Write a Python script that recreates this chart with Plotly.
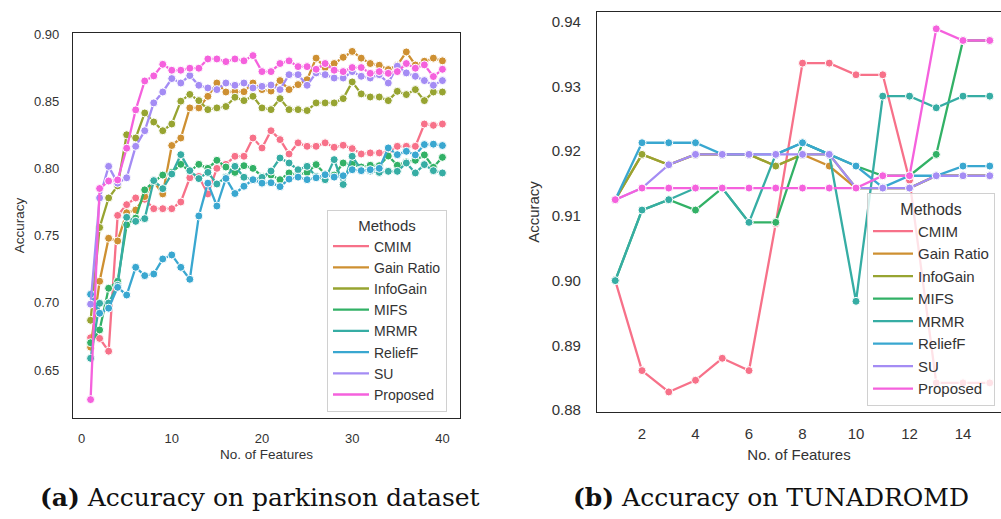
import plotly.graph_objects as go

methods = ["CMIM", "Gain Ratio", "InfoGain", "MIFS", "MRMR", "ReliefF", "SU", "Proposed"]
colors = ["#f77189", "#ce9032", "#97a431", "#32b166", "#36ada4", "#39a7d0", "#a48cf4", "#f561dd"]

# ---- (a) parkinson dataset ----
features_a = list(range(1, 41))
cmim_a = [0.674, 0.6735, 0.664, 0.765, 0.773, 0.778, 0.777, 0.770, 0.770, 0.770,
          0.775, 0.793, 0.794, 0.781, 0.800, 0.803, 0.809, 0.809, 0.8226, 0.8152,
          0.828, 0.8214, 0.8107, 0.819, 0.8164, 0.8164, 0.819, 0.8157, 0.8172, 0.8147,
          0.8107, 0.8115, 0.8115, 0.8125, 0.8164, 0.8164, 0.8164, 0.833, 0.832, 0.833]
gain_a = [0.667, 0.716, 0.748, 0.746, 0.767, 0.769, 0.779, 0.790, 0.781, 0.817,
          0.8226, 0.845, 0.845, 0.8536, 0.8635, 0.8568, 0.857, 0.857, 0.8635, 0.8586,
          0.8575, 0.8653, 0.8586, 0.8623, 0.866, 0.882, 0.875, 0.878, 0.8826, 0.887,
          0.882, 0.878, 0.8767, 0.8735, 0.8767, 0.8866, 0.8769, 0.8797, 0.882, 0.880]
info_a = [0.687, 0.756, 0.778, 0.787, 0.825, 0.8226, 0.8412, 0.8345, 0.828, 0.833,
          0.850, 0.855, 0.8504, 0.8437, 0.845, 0.846, 0.8529, 0.8504, 0.8536, 0.845,
          0.8437, 0.8519, 0.8437, 0.8437, 0.843, 0.8487, 0.8487, 0.8487, 0.8519, 0.8643,
          0.8554, 0.8531, 0.8531, 0.8504, 0.8573, 0.8549, 0.8586, 0.8504, 0.8568, 0.8568]
mifs_a = [0.6703, 0.6798, 0.7108, 0.716, 0.758, 0.763, 0.784, 0.790, 0.795, 0.797,
          0.803, 0.798, 0.803, 0.800, 0.806, 0.801, 0.797, 0.802, 0.800, 0.794,
          0.795, 0.7916, 0.7966, 0.795, 0.797, 0.8028, 0.7958, 0.795, 0.804, 0.803,
          0.801, 0.8023, 0.802, 0.8092, 0.8023, 0.8048, 0.806, 0.810, 0.8008, 0.8082]
mrmr_a = [0.6587, 0.6996, 0.6998, 0.713, 0.7636, 0.7606, 0.7626, 0.7909, 0.7849, 0.7958,
          0.8102, 0.7983, 0.7924, 0.797, 0.7884, 0.7935, 0.8015, 0.7934, 0.7916, 0.7933,
          0.798, 0.8077, 0.804, 0.799, 0.8015, 0.794, 0.7916, 0.8065, 0.788, 0.809,
          0.799, 0.798, 0.797, 0.7978, 0.7978, 0.804, 0.7966, 0.8028, 0.7983, 0.7966]
relief_a = [0.7063, 0.6922, 0.696, 0.7115, 0.7058, 0.7264, 0.7202, 0.7214, 0.7326, 0.7356,
            0.7264, 0.7175, 0.7646, 0.789, 0.772, 0.7925, 0.7813, 0.7867, 0.7916, 0.789,
            0.7893, 0.7864, 0.792, 0.7935, 0.7916, 0.793, 0.7953, 0.7935, 0.7945, 0.799,
            0.7983, 0.799, 0.800, 0.8152, 0.8102, 0.8127, 0.810, 0.8177, 0.818, 0.817]
su_a = [0.699, 0.778, 0.8015, 0.789, 0.793, 0.8164, 0.828, 0.8487, 0.8568, 0.8668,
        0.8635, 0.869, 0.8618, 0.8598, 0.8586, 0.8635, 0.8618, 0.8635, 0.8598, 0.861,
        0.862, 0.8586, 0.8697, 0.8697, 0.8618, 0.871, 0.8697, 0.8672, 0.8672, 0.872,
        0.8685, 0.8672, 0.8697, 0.8635, 0.876, 0.871, 0.8685, 0.8653, 0.8618, 0.8653]
prop_a = [0.628, 0.785, 0.7906, 0.7914, 0.815, 0.8435, 0.865, 0.8688, 0.8774, 0.873,
          0.873, 0.8745, 0.8745, 0.8814, 0.8814, 0.8794, 0.8814, 0.880, 0.8839, 0.872,
          0.872, 0.878, 0.880, 0.8757, 0.8757, 0.8737, 0.878, 0.873, 0.872, 0.875,
          0.875, 0.8707, 0.872, 0.8707, 0.872, 0.878, 0.8745, 0.877, 0.8683, 0.8737]

# ---- (b) TUNADROMD ----
features_b = list(range(1, 16))
cmim_b = [0.900, 0.8861, 0.8828, 0.8846, 0.888, 0.8861, 0.9088, 0.9336, 0.9336, 0.9318,
          0.9318, 0.9155, 0.8842, 0.8842, 0.8842]
gain_b = [0.9125, 0.9195, 0.9179, 0.9195, 0.9195, 0.9195, 0.9177, 0.9195, 0.9177, 0.9143,
          0.9143, 0.9143, 0.9162, 0.9162, 0.9162]
info_b = [0.9125, 0.9195, 0.9179, 0.9195, 0.9195, 0.9195, 0.9177, 0.9195, 0.9195, 0.9143,
          0.9143, 0.9143, 0.9162, 0.9162, 0.9162]
mifs_b = [0.900, 0.9109, 0.9125, 0.9109, 0.9143, 0.909, 0.909, 0.9213, 0.9195, 0.9177,
          0.9162, 0.9162, 0.9195, 0.9371, 0.9371]
mrmr_b = [0.900, 0.9109, 0.9125, 0.9143, 0.9143, 0.909, 0.9195, 0.9213, 0.9195, 0.8968,
          0.9285, 0.9285, 0.9267, 0.9285, 0.9285]
relief_b = [0.9125, 0.9213, 0.9213, 0.9213, 0.9195, 0.9195, 0.9195, 0.9213, 0.9195, 0.9177,
            0.9144, 0.9162, 0.9162, 0.9177, 0.9177]
su_b = [0.9125, 0.9143, 0.9179, 0.9195, 0.9195, 0.9195, 0.9195, 0.9195, 0.9195, 0.9143,
        0.9143, 0.9143, 0.9162, 0.9162, 0.9162]
prop_b = [0.9125, 0.9143, 0.9143, 0.9143, 0.9143, 0.9143, 0.9143, 0.9143, 0.9143, 0.9143,
          0.9162, 0.9162, 0.9389, 0.9371, 0.9371]

series_a = [cmim_a, gain_a, info_a, mifs_a, mrmr_a, relief_a, su_a, prop_a]
series_b = [cmim_b, gain_b, info_b, mifs_b, mrmr_b, relief_b, su_b, prop_b]

FONT = "Liberation Sans, Arial, sans-serif"
TXT = "#333333"
fig = go.Figure()

for name, col, ys in zip(methods, colors, series_a):
    fig.add_trace(go.Scatter(
        x=features_a, y=ys, mode="lines+markers", name=name, showlegend=False,
        line=dict(color=col, width=2.3),
        marker=dict(color=col, size=8, line=dict(color="white", width=1)),
        xaxis="x", yaxis="y"))
for name, col, ys in zip(methods, colors, series_b):
    fig.add_trace(go.Scatter(
        x=features_b, y=ys, mode="lines+markers", name=name, showlegend=False,
        line=dict(color=col, width=2.3),
        marker=dict(color=col, size=8, line=dict(color="white", width=1)),
        xaxis="x2", yaxis="y2"))
# legend-only line samples
for name, col in zip(methods, colors):
    fig.add_trace(go.Scatter(x=[None], y=[None], mode="lines", name=name,
                             line=dict(color=col, width=2.3), legend="legend",
                             xaxis="x", yaxis="y"))
for name, col in zip(methods, colors):
    fig.add_trace(go.Scatter(x=[None], y=[None], mode="lines", name=name,
                             line=dict(color=col, width=2.3), legend="legend2",
                             xaxis="x2", yaxis="y2"))

axis_common = dict(showgrid=False, zeroline=False, showline=True, mirror=True,
                   linecolor="#262626", linewidth=1.3, ticks="", color=TXT)

fig.update_layout(
    width=1001, height=519,
    margin=dict(l=0, r=0, t=0, b=0, autoexpand=False),
    paper_bgcolor="white", plot_bgcolor="white",
    font=dict(family=FONT, color=TXT),
    xaxis=dict(domain=[73/1001, 460/1001], range=[-0.95, 41.95], tickvals=[0, 10, 20, 30, 40],
               tickfont=dict(size=13), ticklabelstandoff=8,
               title=dict(text="No. of Features", font=dict(size=13.5), standoff=4),
               anchor="y", **axis_common),
    yaxis=dict(domain=[1-418/519, 1-33/519], range=[0.6143, 0.9007],
               tickvals=[0.65, 0.70, 0.75, 0.80, 0.85, 0.90], tickformat=".2f",
               tickfont=dict(size=13), ticklabelstandoff=10,
               title=dict(text="Accuracy", font=dict(size=13.5), standoff=6),
               anchor="x", **axis_common),
    xaxis2=dict(domain=[597/1001, 1.0], range=[0.318, 15.42], tickvals=list(range(2, 15, 2)),
                tickfont=dict(size=15), ticklabelstandoff=8,
                title=dict(text="No. of Features", font=dict(size=15), standoff=8),
                anchor="y2", **axis_common),
    yaxis2=dict(domain=[1-412/519, 1-12/519], range=[0.8797, 0.9415],
                tickvals=[0.88, 0.89, 0.90, 0.91, 0.92, 0.93, 0.94], tickformat=".2f",
                tickfont=dict(size=15), ticklabelstandoff=12,
                title=dict(text="Accuracy", font=dict(size=15), standoff=8),
                anchor="x2", **axis_common),
    legend=dict(x=327/1001, y=1-210/519, xanchor="left", yanchor="top",
                bgcolor="white", bordercolor="#d0d0d0", borderwidth=1,
                font=dict(size=14, color=TXT),
                title=dict(text="Methods", side="top center", font=dict(size=15, color=TXT)),
                itemwidth=36, tracegroupgap=0),
    legend2=dict(x=867/1001, y=1-193/519, xanchor="left", yanchor="top",
                 bgcolor="rgba(255,255,255,0.8)", bordercolor="#d0d0d0", borderwidth=1,
                 font=dict(size=15, color=TXT),
                 title=dict(text="Methods", side="top center", font=dict(size=16, color=TXT)),
                 itemwidth=40, tracegroupgap=0),
    annotations=[
        dict(text="<b>(a)</b> Accuracy on parkinson dataset", x=260/1001, y=1-497/519,
             xref="paper", yref="paper", showarrow=False, xanchor="center", yanchor="middle",
             font=dict(family="DejaVu Serif, serif", size=25, color="#111111")),
        dict(text="<b>(b)</b> Accuracy on TUNADROMD", x=771/1001, y=1-497/519,
             xref="paper", yref="paper", showarrow=False, xanchor="center", yanchor="middle",
             font=dict(family="DejaVu Serif, serif", size=25, color="#111111")),
    ],
)

fig.write_html("out.html")
